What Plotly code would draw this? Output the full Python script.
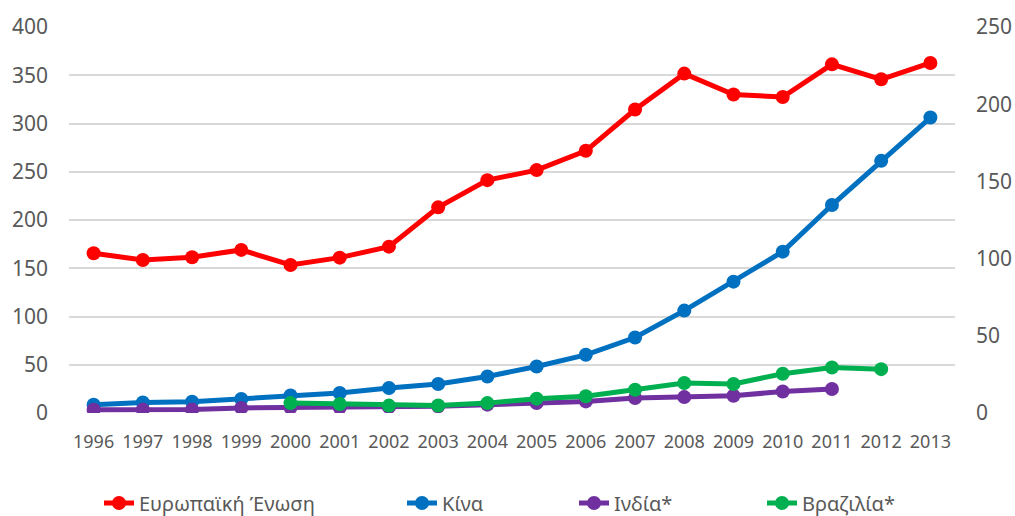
import plotly.graph_objects as go

years = [str(y) for y in range(1996, 2014)]
# left axis
eu = [165.5, 158.6, 161.4, 169, 153.4, 161, 172.4, 213.1, 241.3, 251.7, 271.7, 314.5, 351.7, 330, 327.5, 361.3, 345.8, 362.7]
china = [8.6, 11, 11.7, 14.5, 18.2, 20.7, 25.9, 30, 37.9, 48.2, 60.3, 78.2, 106.1, 136.1, 167.2, 215.5, 261.3, 306.2]
# right axis
india = [2.1, 2.2, 2.2, 3.3, 3.4, 3.4, 3.8, 4.4, 5.4, 6.4, 7.5, 9.7, 10.3, 11.2, 13.9, 15.5, None, None]
brazil = [None, None, None, None, 6.4, 5.8, 4.8, 4.9, 6.4, 9.3, 10.8, 15.1, 19.4, 18.8, 25.4, 29.5, 28.4, None]

names = ["Ευρωπαϊκή Ένωση", "Κίνα", "Ινδία*", "Βραζιλία*"]
colors = ["#FF0000", "#0070C0", "#7030A0", "#00B050"]
series = [eu, china, india, brazil]
yaxes = ["y", "y", "y2", "y2"]
legends = ["legend", "legend2", "legend3", "legend4"]

W, H = 1015, 516
L, R, T = 69, 60, 27
B = H - 413.3
leg_x_px = [140 - 41, 443 - 41, 615 - 41, 803 - 41]
leg_y_px = 503

FONT = "Noto Sans"
GRAY = "#595959"

fig = go.Figure()
for name, col, vals, ya, lg in zip(names, colors, series, yaxes, legends):
    fig.add_trace(go.Scatter(
        x=years, y=vals, name=name, mode="lines+markers", yaxis=ya,
        line=dict(color=col, width=5),
        marker=dict(color=col, size=14),
        legend=lg, connectgaps=False,
    ))

layout_legends = {}
for lg, px in zip(legends, leg_x_px):
    layout_legends[lg] = dict(
        x=px / W, xref="container", xanchor="left",
        y=1 - leg_y_px / H, yref="container", yanchor="middle",
        orientation="h", bgcolor="rgba(0,0,0,0)",
        font=dict(family=FONT, size=20, color=GRAY),
    )

fig.update_layout(
    width=W, height=H,
    margin=dict(l=L, r=R, t=T, b=B, autoexpand=False),
    paper_bgcolor="white", plot_bgcolor="white",
    showlegend=True,
    xaxis=dict(type="category", range=[-0.5, 17.5], showgrid=False,
               showline=False, zeroline=False, ticks="",
               tickfont=dict(family=FONT, size=18, color=GRAY),
               ticklabelstandoff=16),
    yaxis=dict(range=[0, 400], dtick=50, showgrid=True, gridcolor="#D9D9D9",
               gridwidth=1.5, zeroline=False, showline=False, ticks="",
               tickfont=dict(family=FONT, size=21, color=GRAY),
               ticklabelstandoff=20),
    yaxis2=dict(range=[0, 250], dtick=50, overlaying="y", side="right",
                anchor="x", showgrid=False, zeroline=False, showline=False,
                ticks="", tickfont=dict(family=FONT, size=21, color=GRAY),
                ticklabelstandoff=20),
    **layout_legends,
)

fig.write_html(
    "out.html",
    config={"displayModeBar": False},
    post_script="document.body.style.margin='0';document.body.style.overflow='hidden';",
)
